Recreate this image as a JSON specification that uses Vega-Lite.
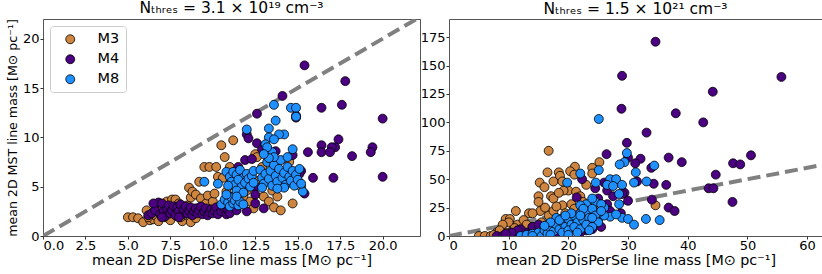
{
  "$schema": "https://vega.github.io/schema/vega-lite/v6.json",
  "padding": {"left": 5, "top": 0, "right": 1, "bottom": 0},
  "background": "white",
  "config": {
    "font": "DejaVu Sans",
    "view": {"stroke": "#555555", "strokeWidth": 1},
    "axis": {"grid": false, "domain": false, "tickSize": 3, "tickColor": "#333333", "labelFontSize": 13, "titleFontSize": 14.3, "labelColor": "black", "titleColor": "black", "titleFontWeight": "normal", "labelPadding": 0, "titlePadding": 1},
    "axisY": {"titleFontSize": 12.6, "labelPadding": 1, "titlePadding": 3},
    "title": {"fontSize": 15.5, "fontWeight": "normal", "offset": 2},
    "concat": {"spacing": 29}
  },
  "datasets": {
    "left": [
      {"s":"M3","x":5.0,"y":1.9},{"s":"M3","x":5.3,"y":1.9},{"s":"M3","x":5.6,"y":1.8},{"s":"M3","x":5.9,"y":1.4},{"s":"M3","x":6.1,"y":2.6},{"s":"M3","x":6.3,"y":1.6},{"s":"M3","x":6.5,"y":1.7},{"s":"M3","x":6.6,"y":2.1},{"s":"M3","x":6.8,"y":1.5},{"s":"M3","x":7.0,"y":2.4},{"s":"M3","x":7.2,"y":1.9},{"s":"M3","x":7.3,"y":3.5},{"s":"M3","x":7.5,"y":1.6},{"s":"M3","x":7.6,"y":3.7},{"s":"M3","x":7.8,"y":3.7},{"s":"M3","x":7.9,"y":2.0},{"s":"M3","x":8.0,"y":3.3},{"s":"M3","x":8.2,"y":1.5},{"s":"M3","x":8.3,"y":2.1},{"s":"M3","x":8.5,"y":3.1},{"s":"M3","x":8.6,"y":4.9},{"s":"M3","x":8.7,"y":1.4},{"s":"M3","x":8.7,"y":3.9},{"s":"M3","x":8.8,"y":4.5},{"s":"M3","x":8.9,"y":2.3},{"s":"M3","x":9.0,"y":4.2},{"s":"M3","x":9.1,"y":2.8},{"s":"M3","x":9.2,"y":5.5},{"s":"M3","x":9.3,"y":3.8},{"s":"M3","x":9.4,"y":2.5},{"s":"M3","x":9.5,"y":7.0},{"s":"M3","x":9.6,"y":3.3},{"s":"M3","x":9.7,"y":4.1},{"s":"M3","x":9.8,"y":7.0},{"s":"M3","x":9.9,"y":2.6},{"s":"M3","x":10.0,"y":3.5},{"s":"M3","x":10.1,"y":4.3},{"s":"M3","x":10.2,"y":7.0},{"s":"M3","x":10.3,"y":6.0},{"s":"M3","x":10.4,"y":2.8},{"s":"M3","x":10.5,"y":9.2},{"s":"M3","x":10.6,"y":5.9},{"s":"M3","x":10.7,"y":8.0},{"s":"M3","x":10.8,"y":4.5},{"s":"M3","x":11.2,"y":9.7},{"s":"M3","x":11.0,"y":7.0},{"s":"M3","x":11.3,"y":5.0},{"s":"M3","x":11.5,"y":3.2},{"s":"M3","x":11.8,"y":4.0},{"s":"M3","x":12.0,"y":4.6},{"s":"M3","x":12.2,"y":3.5},{"s":"M3","x":12.5,"y":8.3},{"s":"M3","x":12.6,"y":8.0},{"s":"M3","x":12.7,"y":5.6},{"s":"M3","x":12.4,"y":2.8},{"s":"M3","x":13.0,"y":4.0},{"s":"M3","x":13.3,"y":3.5},{"s":"M3","x":13.5,"y":4.6},{"s":"M3","x":13.6,"y":2.9},{"s":"M3","x":13.8,"y":4.0},{"s":"M3","x":14.0,"y":2.6},{"s":"M3","x":13.9,"y":5.2},{"s":"M3","x":14.2,"y":6.0},{"s":"M3","x":14.7,"y":3.3},{"s":"M3","x":15.2,"y":5.0},{"s":"M3","x":14.5,"y":7.5},{"s":"M3","x":12.9,"y":7.0},{"s":"M3","x":12.2,"y":6.2},{"s":"M3","x":11.6,"y":6.0},{"s":"M3","x":6.9,"y":2.7},{"s":"M3","x":7.4,"y":2.3},{"s":"M3","x":8.1,"y":1.9},{"s":"M3","x":9.0,"y":1.8},{"s":"M3","x":8.4,"y":2.6},{"s":"M3","x":6.2,"y":1.9},{"s":"M3","x":10.9,"y":3.6},
      {"s":"M4","x":6.2,"y":2.1},{"s":"M4","x":6.4,"y":2.3},{"s":"M4","x":6.6,"y":2.6},{"s":"M4","x":6.8,"y":3.4},{"s":"M4","x":6.9,"y":2.2},{"s":"M4","x":7.0,"y":3.3},{"s":"M4","x":7.1,"y":2.5},{"s":"M4","x":7.2,"y":2.0},{"s":"M4","x":7.3,"y":2.8},{"s":"M4","x":7.4,"y":3.1},{"s":"M4","x":7.5,"y":2.3},{"s":"M4","x":7.6,"y":2.6},{"s":"M4","x":7.7,"y":3.0},{"s":"M4","x":7.8,"y":2.1},{"s":"M4","x":7.9,"y":2.9},{"s":"M4","x":8.0,"y":2.5},{"s":"M4","x":8.1,"y":3.2},{"s":"M4","x":8.2,"y":2.2},{"s":"M4","x":8.3,"y":2.7},{"s":"M4","x":8.4,"y":3.0},{"s":"M4","x":8.5,"y":2.3},{"s":"M4","x":8.6,"y":2.6},{"s":"M4","x":8.7,"y":2.9},{"s":"M4","x":8.8,"y":2.1},{"s":"M4","x":8.9,"y":2.5},{"s":"M4","x":9.0,"y":2.8},{"s":"M4","x":9.1,"y":2.3},{"s":"M4","x":9.2,"y":2.6},{"s":"M4","x":9.3,"y":3.0},{"s":"M4","x":9.4,"y":2.2},{"s":"M4","x":9.5,"y":2.5},{"s":"M4","x":9.6,"y":2.8},{"s":"M4","x":9.7,"y":2.1},{"s":"M4","x":9.8,"y":2.4},{"s":"M4","x":9.9,"y":2.7},{"s":"M4","x":10.0,"y":2.3},{"s":"M4","x":10.1,"y":2.6},{"s":"M4","x":10.2,"y":2.9},{"s":"M4","x":10.3,"y":2.2},{"s":"M4","x":10.5,"y":2.5},{"s":"M4","x":10.7,"y":2.8},{"s":"M4","x":10.8,"y":2.2},{"s":"M4","x":10.9,"y":2.6},{"s":"M4","x":11.0,"y":2.3},{"s":"M4","x":11.2,"y":3.0},{"s":"M4","x":11.4,"y":2.6},{"s":"M4","x":11.6,"y":3.2},{"s":"M4","x":11.8,"y":4.5},{"s":"M4","x":11.5,"y":4.2},{"s":"M4","x":11.2,"y":3.8},{"s":"M4","x":11.0,"y":4.0},{"s":"M4","x":11.7,"y":5.5},{"s":"M4","x":11.5,"y":7.0},{"s":"M4","x":11.9,"y":7.7},{"s":"M4","x":12.3,"y":7.8},{"s":"M4","x":12.5,"y":5.0},{"s":"M4","x":12.5,"y":4.2},{"s":"M4","x":12.5,"y":3.3},{"s":"M4","x":12.6,"y":12.4},{"s":"M4","x":12.0,"y":10.3},{"s":"M4","x":12.1,"y":9.9},{"s":"M4","x":12.6,"y":9.4},{"s":"M4","x":12.9,"y":8.8},{"s":"M4","x":13.7,"y":8.6},{"s":"M4","x":14.1,"y":14.2},{"s":"M4","x":15.4,"y":17.3},{"s":"M4","x":17.8,"y":15.7},{"s":"M4","x":16.4,"y":13.0},{"s":"M4","x":17.6,"y":13.3},{"s":"M4","x":14.9,"y":12.2},{"s":"M4","x":14.9,"y":12.0},{"s":"M4","x":20.0,"y":11.9},{"s":"M4","x":17.4,"y":9.8},{"s":"M4","x":17.2,"y":9.0},{"s":"M4","x":17.0,"y":9.0},{"s":"M4","x":16.4,"y":9.2},{"s":"M4","x":19.4,"y":9.0},{"s":"M4","x":19.3,"y":8.5},{"s":"M4","x":16.4,"y":8.5},{"s":"M4","x":15.6,"y":8.5},{"s":"M4","x":16.9,"y":8.5},{"s":"M4","x":18.2,"y":8.1},{"s":"M4","x":20.0,"y":6.0},{"s":"M4","x":17.1,"y":5.9},{"s":"M4","x":15.9,"y":5.9},{"s":"M4","x":15.4,"y":4.3},{"s":"M4","x":14.7,"y":8.2},{"s":"M4","x":15.2,"y":6.6},{"s":"M4","x":15.1,"y":6.3},{"s":"M4","x":13.0,"y":6.0},{"s":"M4","x":13.5,"y":7.5},{"s":"M4","x":14.3,"y":5.5},{"s":"M4","x":13.0,"y":2.8},{"s":"M4","x":12.0,"y":2.5},{"s":"M4","x":6.5,"y":3.3},{"s":"M4","x":7.0,"y":1.9},{"s":"M4","x":8.0,"y":1.9},
      {"s":"M8","x":13.6,"y":13.3},{"s":"M8","x":14.6,"y":13.0},{"s":"M8","x":14.9,"y":13.0},{"s":"M8","x":14.9,"y":12.1},{"s":"M8","x":13.7,"y":11.7},{"s":"M8","x":12.0,"y":10.8},{"s":"M8","x":13.3,"y":10.9},{"s":"M8","x":14.2,"y":10.3},{"s":"M8","x":13.9,"y":10.3},{"s":"M8","x":13.3,"y":10.0},{"s":"M8","x":13.6,"y":9.8},{"s":"M8","x":13.1,"y":9.3},{"s":"M8","x":14.7,"y":8.8},{"s":"M8","x":13.5,"y":8.5},{"s":"M8","x":13.2,"y":9.0},{"s":"M8","x":9.5,"y":5.5},{"s":"M8","x":10.3,"y":5.3},{"s":"M8","x":15.3,"y":4.5},
      {"s":"M8","x":10.8,"y":6.5},{"s":"M8","x":11.0,"y":6.0},{"s":"M8","x":11.2,"y":6.5},{"s":"M8","x":11.4,"y":6.2},{"s":"M8","x":11.6,"y":6.7},{"s":"M8","x":11.8,"y":5.9},{"s":"M8","x":12.0,"y":6.3},{"s":"M8","x":11.1,"y":5.5},{"s":"M8","x":11.3,"y":5.2},{"s":"M8","x":11.5,"y":5.7},{"s":"M8","x":11.7,"y":5.0},{"s":"M8","x":11.9,"y":5.4},{"s":"M8","x":12.1,"y":5.8},{"s":"M8","x":12.3,"y":6.1},{"s":"M8","x":11.4,"y":4.6},{"s":"M8","x":11.8,"y":4.4},{"s":"M8","x":12.2,"y":5.0},{"s":"M8","x":10.9,"y":5.1},{"s":"M8","x":12.4,"y":6.6},{"s":"M8","x":12.4,"y":5.4},
      {"s":"M8","x":10.5,"y":3.2},{"s":"M8","x":10.7,"y":3.7},{"s":"M8","x":10.9,"y":3.4},{"s":"M8","x":11.0,"y":3.0},{"s":"M8","x":11.1,"y":3.9},{"s":"M8","x":11.2,"y":3.3},{"s":"M8","x":11.3,"y":3.6},{"s":"M8","x":11.5,"y":3.1},{"s":"M8","x":11.6,"y":3.5},{"s":"M8","x":11.8,"y":3.2},{"s":"M8","x":10.8,"y":4.2},{"s":"M8","x":11.4,"y":4.0},
      {"s":"M8","x":12.8,"y":6.7},{"s":"M8","x":12.9,"y":5.9},{"s":"M8","x":13.0,"y":5.3},{"s":"M8","x":13.1,"y":6.3},{"s":"M8","x":13.2,"y":7.5},{"s":"M8","x":13.3,"y":5.8},{"s":"M8","x":13.4,"y":6.6},{"s":"M8","x":13.5,"y":5.1},{"s":"M8","x":13.6,"y":7.2},{"s":"M8","x":13.7,"y":6.1},{"s":"M8","x":13.8,"y":5.5},{"s":"M8","x":13.9,"y":6.8},{"s":"M8","x":14.0,"y":7.7},{"s":"M8","x":14.1,"y":5.9},{"s":"M8","x":14.2,"y":6.4},{"s":"M8","x":14.3,"y":5.2},{"s":"M8","x":14.4,"y":7.0},{"s":"M8","x":14.5,"y":6.0},{"s":"M8","x":14.6,"y":5.6},{"s":"M8","x":14.7,"y":6.6},{"s":"M8","x":14.8,"y":5.1},{"s":"M8","x":14.9,"y":6.2},{"s":"M8","x":15.0,"y":5.7},{"s":"M8","x":13.6,"y":8.0},{"s":"M8","x":13.3,"y":7.9},{"s":"M8","x":12.9,"y":4.9},{"s":"M8","x":14.2,"y":4.9},{"s":"M8","x":15.1,"y":6.8},{"s":"M8","x":13.0,"y":8.3},{"s":"M8","x":14.4,"y":8.0},{"s":"M8","x":15.2,"y":5.3},{"s":"M8","x":13.8,"y":4.8}
    ],
    "right": [
      {"s":"M3","x":16.7,"y":75},{"s":"M3","x":16.5,"y":56},{"s":"M3","x":18.4,"y":56},{"s":"M3","x":21.1,"y":61},{"s":"M3","x":20.3,"y":57},{"s":"M3","x":24.0,"y":60},{"s":"M3","x":25.2,"y":65},{"s":"M3","x":21.0,"y":54},{"s":"M3","x":15.2,"y":47},{"s":"M3","x":17.5,"y":48},{"s":"M3","x":18.6,"y":53},{"s":"M3","x":20.0,"y":40},{"s":"M3","x":19.2,"y":40},{"s":"M3","x":17.1,"y":35},{"s":"M3","x":17.5,"y":33},{"s":"M3","x":18.4,"y":38},{"s":"M3","x":21.3,"y":39},{"s":"M3","x":22.0,"y":35},{"s":"M3","x":15.0,"y":35},{"s":"M3","x":15.0,"y":30},{"s":"M3","x":15.3,"y":22},{"s":"M3","x":11.2,"y":22},{"s":"M3","x":13.4,"y":20},{"s":"M3","x":14.0,"y":20},{"s":"M3","x":16.7,"y":18},{"s":"M3","x":16.1,"y":25},{"s":"M3","x":17.5,"y":22},{"s":"M3","x":9.5,"y":15},{"s":"M3","x":10.2,"y":15},{"s":"M3","x":10.0,"y":12},{"s":"M3","x":9.0,"y":10},{"s":"M3","x":11.5,"y":10},{"s":"M3","x":12.5,"y":14},{"s":"M3","x":13.0,"y":10},{"s":"M3","x":8.0,"y":3},{"s":"M3","x":5.0,"y":0},{"s":"M3","x":6.0,"y":0},{"s":"M3","x":7.0,"y":0},{"s":"M3","x":34.6,"y":27},{"s":"M3","x":24.0,"y":55},{"s":"M3","x":19.0,"y":27},{"s":"M3","x":20.5,"y":28},{"s":"M3","x":18.0,"y":26},{"s":"M3","x":22.5,"y":30},{"s":"M3","x":14.0,"y":8},{"s":"M3","x":15.5,"y":12},{"s":"M3","x":16.5,"y":10},{"s":"M3","x":12.0,"y":5},{"s":"M3","x":10.5,"y":4},{"s":"M3","x":9.5,"y":3},{"s":"M3","x":11.0,"y":7},{"s":"M3","x":13.5,"y":3},{"s":"M3","x":17.0,"y":5},{"s":"M3","x":18.5,"y":15},{"s":"M3","x":19.5,"y":20},{"s":"M3","x":21.0,"y":24},{"s":"M3","x":22.0,"y":20},{"s":"M3","x":16.0,"y":43},{"s":"M3","x":19.0,"y":48},{"s":"M3","x":23.0,"y":45},{"s":"M3","x":20.5,"y":15},{"s":"M3","x":7.5,"y":1},{"s":"M3","x":8.5,"y":5},{"s":"M3","x":24.5,"y":12},{"s":"M3","x":25.5,"y":25},{"s":"M3","x":23.5,"y":22},
      {"s":"M4","x":34.6,"y":171},{"s":"M4","x":29.0,"y":141},{"s":"M4","x":55.7,"y":140},{"s":"M4","x":44.2,"y":127},{"s":"M4","x":28.9,"y":112},{"s":"M4","x":38.0,"y":108},{"s":"M4","x":42.6,"y":100},{"s":"M4","x":33.1,"y":91},{"s":"M4","x":29.8,"y":82},{"s":"M4","x":50.6,"y":71},{"s":"M4","x":26.4,"y":72},{"s":"M4","x":36.8,"y":69},{"s":"M4","x":30.0,"y":69},{"s":"M4","x":32.1,"y":68},{"s":"M4","x":39.0,"y":65},{"s":"M4","x":47.6,"y":64},{"s":"M4","x":48.8,"y":63},{"s":"M4","x":31.2,"y":64},{"s":"M4","x":33.9,"y":60},{"s":"M4","x":44.7,"y":54},{"s":"M4","x":31.5,"y":48},{"s":"M4","x":34.3,"y":46},{"s":"M4","x":36.4,"y":45},{"s":"M4","x":43.5,"y":42},{"s":"M4","x":44.3,"y":42},{"s":"M4","x":30.0,"y":31},{"s":"M4","x":34.0,"y":32},{"s":"M4","x":47.5,"y":30},{"s":"M4","x":36.8,"y":25},{"s":"M4","x":37.8,"y":22},{"s":"M4","x":29.4,"y":38},{"s":"M4","x":28.8,"y":20},{"s":"M4","x":22.3,"y":50},{"s":"M4","x":21.4,"y":34},{"s":"M4","x":26.0,"y":47},{"s":"M4","x":24.5,"y":42},{"s":"M4","x":26.5,"y":40},{"s":"M4","x":25.0,"y":33},{"s":"M4","x":23.0,"y":25},{"s":"M4","x":27.5,"y":35},{"s":"M4","x":29.0,"y":37},
      {"s":"M4","x":8,"y":0},{"s":"M4","x":9,"y":0},{"s":"M4","x":10,"y":0},{"s":"M4","x":11,"y":1},{"s":"M4","x":12,"y":2},{"s":"M4","x":13,"y":3},{"s":"M4","x":14,"y":4},{"s":"M4","x":15,"y":2},{"s":"M4","x":16,"y":5},{"s":"M4","x":17,"y":3},{"s":"M4","x":18,"y":6},{"s":"M4","x":19,"y":8},{"s":"M4","x":20,"y":4},{"s":"M4","x":21,"y":7},{"s":"M4","x":22,"y":10},{"s":"M4","x":23,"y":5},{"s":"M4","x":24,"y":12},{"s":"M4","x":12,"y":6},{"s":"M4","x":14,"y":8},{"s":"M4","x":16,"y":0},{"s":"M4","x":18,"y":1},{"s":"M4","x":20,"y":10},{"s":"M4","x":22,"y":3},{"s":"M4","x":24,"y":6},{"s":"M4","x":25,"y":15},{"s":"M4","x":26,"y":20},{"s":"M4","x":13.5,"y":0},{"s":"M4","x":11.5,"y":5},{"s":"M4","x":17.5,"y":9},{"s":"M4","x":19.5,"y":2},{"s":"M4","x":21.5,"y":14},{"s":"M4","x":23.5,"y":18},{"s":"M4","x":25.5,"y":8},{"s":"M4","x":26.5,"y":28},{"s":"M4","x":27,"y":22},{"s":"M4","x":15,"y":10},{"s":"M4","x":10.5,"y":3},{"s":"M4","x":9.5,"y":2},
      {"s":"M8","x":25.1,"y":103},{"s":"M8","x":29.8,"y":73},{"s":"M8","x":29.4,"y":65},{"s":"M8","x":28.6,"y":63},{"s":"M8","x":34.4,"y":62},{"s":"M8","x":31.3,"y":56},{"s":"M8","x":31.0,"y":47},{"s":"M8","x":33.1,"y":48},{"s":"M8","x":22.0,"y":55},{"s":"M8","x":19.8,"y":47},{"s":"M8","x":25.1,"y":58},{"s":"M8","x":24.6,"y":47},{"s":"M8","x":27.0,"y":50},{"s":"M8","x":28.0,"y":50},{"s":"M8","x":29.0,"y":45},{"s":"M8","x":26.5,"y":45},{"s":"M8","x":28.5,"y":37},{"s":"M8","x":28.5,"y":28},{"s":"M8","x":27.0,"y":17},{"s":"M8","x":29.0,"y":16},{"s":"M8","x":30.0,"y":15},{"s":"M8","x":31.0,"y":10},{"s":"M8","x":33.0,"y":15},{"s":"M8","x":35.3,"y":14},{"s":"M8","x":28.0,"y":19},{"s":"M8","x":26.0,"y":25},{"s":"M8","x":24.5,"y":30},{"s":"M8","x":23.0,"y":28},{"s":"M8","x":22.0,"y":27},{"s":"M8","x":25.5,"y":28},{"s":"M8","x":24.0,"y":33},{"s":"M8","x":27.5,"y":44},{"s":"M8","x":26.0,"y":18},{"s":"M8","x":25.0,"y":20},
      {"s":"M8","x":12,"y":0},{"s":"M8","x":13,"y":1},{"s":"M8","x":14,"y":2},{"s":"M8","x":15,"y":3},{"s":"M8","x":15.5,"y":0},{"s":"M8","x":16,"y":5},{"s":"M8","x":16.5,"y":2},{"s":"M8","x":17,"y":7},{"s":"M8","x":17.5,"y":4},{"s":"M8","x":18,"y":10},{"s":"M8","x":18.5,"y":6},{"s":"M8","x":19,"y":12},{"s":"M8","x":19.5,"y":8},{"s":"M8","x":20,"y":15},{"s":"M8","x":20.5,"y":10},{"s":"M8","x":21,"y":18},{"s":"M8","x":21.5,"y":12},{"s":"M8","x":22,"y":20},{"s":"M8","x":22.5,"y":14},{"s":"M8","x":23,"y":22},{"s":"M8","x":23.5,"y":16},{"s":"M8","x":24,"y":24},{"s":"M8","x":24.5,"y":18},{"s":"M8","x":25,"y":12},{"s":"M8","x":25.5,"y":22},{"s":"M8","x":18,"y":16},{"s":"M8","x":19,"y":3},{"s":"M8","x":20,"y":5},{"s":"M8","x":21,"y":8},{"s":"M8","x":22,"y":6},{"s":"M8","x":23,"y":10},{"s":"M8","x":24,"y":8},{"s":"M8","x":17,"y":12},{"s":"M8","x":16,"y":9},{"s":"M8","x":18.5,"y":14},{"s":"M8","x":20.5,"y":20},{"s":"M8","x":22.5,"y":24},{"s":"M8","x":23.5,"y":5},{"s":"M8","x":21.5,"y":3},{"s":"M8","x":19.5,"y":18},{"s":"M8","x":14,"y":0},{"s":"M8","x":17,"y":1},{"s":"M8","x":20,"y":1},{"s":"M8","x":22,"y":18},{"s":"M8","x":24,"y":16}
    ],
    "diag": [{"x": 0, "y": 0}, {"x": 200, "y": 200}]
  },
  "bounds": "flush",
  "resolve": {"scale": {"color": "independent", "x": "independent", "y": "independent"}},
  "hconcat": [
    {
      "width": 377,
      "height": 217,
      "title": {"text": "Nₜₕᵣₑₛ = 3.1 × 10¹⁹ cm⁻³"},
      "layer": [
        {
          "data": {"name": "diag"},
          "mark": {"type": "line", "clip": true, "color": "#808080", "strokeWidth": 4, "strokeDash": [13, 6]},
          "encoding": {
            "x": {"field": "x", "type": "quantitative", "scale": {"domain": [0, 22.2], "nice": false, "zero": false}, "axis": {"values": [0, 2.5, 5, 7.5, 10, 12.5, 15, 17.5, 20], "format": ".1f", "title": "mean 2D DisPerSe line mass [M⊙ pc⁻¹]"}},
            "y": {"field": "y", "type": "quantitative", "scale": {"domain": [0, 22], "nice": false, "zero": false}, "axis": {"values": [0, 5, 10, 15, 20], "title": "mean 2D MST line mass [M⊙ pc⁻¹]"}}
          }
        },
        {
          "data": {"name": "left"},
          "mark": {"type": "circle", "size": 80, "opacity": 1, "stroke": "black", "strokeWidth": 0.8, "clip": true},
          "encoding": {
            "x": {"field": "x", "type": "quantitative", "scale": {"domain": [0, 22.2], "nice": false, "zero": false}, "axis": {"values": [0, 2.5, 5, 7.5, 10, 12.5, 15, 17.5, 20], "format": ".1f", "title": "mean 2D DisPerSe line mass [M⊙ pc⁻¹]"}},
            "y": {"field": "y", "type": "quantitative", "scale": {"domain": [0, 22], "nice": false, "zero": false}, "axis": {"values": [0, 5, 10, 15, 20], "title": "mean 2D MST line mass [M⊙ pc⁻¹]"}},
            "color": {"field": "s", "type": "nominal", "scale": {"domain": ["M3", "M4", "M8"], "range": ["peru", "indigo", "dodgerblue"]},
              "legend": {"title": null, "orient": "none", "legendX": 7, "legendY": 7, "symbolType": "circle", "symbolSize": 80, "symbolStrokeColor": "black", "symbolStrokeWidth": 0.8, "symbolOpacity": 1, "labelFontSize": 14.5, "labelOffset": 20, "symbolOffset": 7, "padding": 6, "rowPadding": 5, "strokeColor": "#cccccc", "fillColor": "white", "cornerRadius": 3}}
          }
        }
      ]
    },
    {
      "width": 373,
      "height": 217,
      "title": {"text": "Nₜₕᵣₑₛ = 1.5 × 10²¹ cm⁻³"},
      "layer": [
        {
          "data": {"name": "diag"},
          "mark": {"type": "line", "clip": true, "color": "#808080", "strokeWidth": 4, "strokeDash": [13, 6]},
          "encoding": {
            "x": {"field": "x", "type": "quantitative", "scale": {"domain": [0, 62.5], "nice": false, "zero": false}, "axis": {"values": [0, 10, 20, 30, 40, 50, 60], "title": "mean 2D DisPerSe line mass [M⊙ pc⁻¹]"}},
            "y": {"field": "y", "type": "quantitative", "scale": {"domain": [0, 191], "nice": false, "zero": false}, "axis": {"values": [0, 25, 50, 75, 100, 125, 150, 175], "title": null}}
          }
        },
        {
          "data": {"name": "right"},
          "mark": {"type": "circle", "size": 80, "opacity": 1, "stroke": "black", "strokeWidth": 0.8, "clip": true},
          "encoding": {
            "x": {"field": "x", "type": "quantitative", "scale": {"domain": [0, 62.5], "nice": false, "zero": false}, "axis": {"values": [0, 10, 20, 30, 40, 50, 60], "title": "mean 2D DisPerSe line mass [M⊙ pc⁻¹]"}},
            "y": {"field": "y", "type": "quantitative", "scale": {"domain": [0, 191], "nice": false, "zero": false}, "axis": {"values": [0, 25, 50, 75, 100, 125, 150, 175], "title": null}},
            "color": {"field": "s", "type": "nominal", "scale": {"domain": ["M3", "M4", "M8"], "range": ["peru", "indigo", "dodgerblue"]}, "legend": null}
          }
        }
      ]
    }
  ]
}
